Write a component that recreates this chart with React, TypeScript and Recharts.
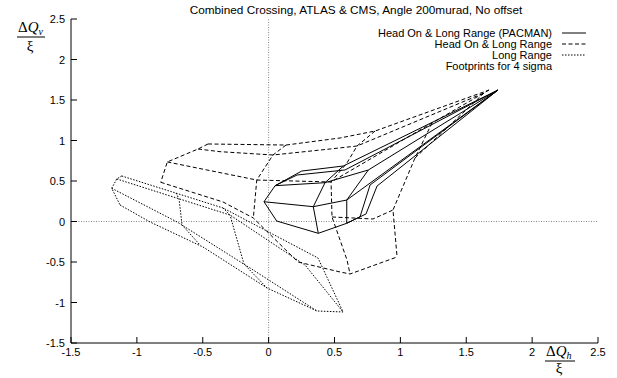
import React from 'react';
import { ComposedChart, Line, XAxis, YAxis, ReferenceLine } from 'recharts';

type Pt = [number, number];

const xTicks = [-1.5, -1, -0.5, 0, 0.5, 1, 1.5, 2, 2.5];
const yTicks = [-1.5, -1, -0.5, 0, 0.5, 1, 1.5, 2, 2.5];

const titleText = 'Combined Crossing, ATLAS & CMS, Angle 200murad, No offset';
const legendLabels = [
  'Head On & Long Range (PACMAN)',
  'Head On & Long Range',
  'Long Range',
  'Footprints for 4 sigma',
];

// Head On & Long Range (PACMAN) footprint, polylines in tune-shift units
const pacmanLines: Pt[][] = [
  [[1.741, 1.623], [0.567, 0.685], [0.251, 0.623], [0.049, 0.442], [-0.035, 0.244], [0.061, 0.006], [0.377, -0.146], [0.593, -0.022], [0.694, 0.059], [0.77, 0.451], [1.741, 1.623]],
  [[1.741, 1.623], [0.757, 0.636], [0.428, 0.479], [0.049, 0.442]],
  [[1.741, 1.623], [0.593, 0.265], [0.339, 0.183], [-0.035, 0.244]],
  [[0.567, 0.685], [0.428, 0.479], [0.339, 0.183], [0.377, -0.146]],
  [[0.757, 0.636], [0.593, 0.265], [0.593, -0.022]],
  [[0.049, 0.442], [0.216, 0.574], [0.58, 0.636], [1.741, 1.623]],
  [[0.593, -0.022], [0.739, 0.093], [0.823, 0.438], [1.741, 1.623]],
];

// Head On & Long Range footprint
const headOnLines: Pt[][] = [
  [[-0.46, 0.957], [0.132, 0.944], [0.542, 1.031], [0.808, 1.117], [1.673, 1.623]],
  [[-0.536, 0.895], [-0.369, 0.862], [0.033, 0.821], [0.466, 0.895], [0.671, 0.932], [1.635, 1.586]],
  [[-0.769, 0.735], [-0.09, 0.512], [0.474, 0.488], [1.24, 1.216], [1.673, 1.623]],
  [[-0.819, 0.484], [-0.346, 0.241], [-0.116, 0.043], [0.223, -0.5], [0.542, -0.623], [0.618, -0.648], [0.975, -0.438]],
  [[-0.46, 0.957], [-0.536, 0.895], [-0.769, 0.735], [-0.819, 0.484]],
  [[0.132, 0.944], [0.033, 0.821], [-0.09, 0.512], [-0.116, 0.043]],
  [[0.808, 1.117], [0.671, 0.932], [0.593, 0.719], [0.474, 0.488], [0.481, 0.056], [0.595, -0.475], [0.618, -0.648]],
  [[1.24, 1.216], [1.111, 0.784], [0.944, 0.142], [0.975, -0.438]],
  [[0.481, 0.056], [0.792, 0.031], [0.944, 0.142]],
  [[1.111, 0.784], [1.635, 1.586]],
];

// Long Range footprint
const longRangeLines: Pt[][] = [
  [[-1.115, 0.562], [-0.346, 0.167], [0.375, -0.451], [0.565, -1.117]],
  [[-1.153, 0.525], [-0.293, 0.08], [0.276, -0.537], [0.565, -1.117]],
  [[-1.191, 0.41], [-0.695, -0.006], [-0.141, -0.574], [0.367, -1.105]],
  [[-1.128, 0.204], [-0.9, -0.006], [-0.498, -0.315], [-0.012, -0.821], [0.367, -1.105], [0.565, -1.117]],
  [[-1.115, 0.562], [-1.153, 0.525], [-1.191, 0.41], [-1.128, 0.204]],
  [[-0.703, 0.352], [-0.68, 0.278], [-0.657, -0.043], [-0.521, -0.29]],
  [[-0.346, 0.167], [-0.293, 0.08], [-0.187, -0.525], [-0.012, -0.821]],
];

const FONT = '"Liberation Sans", Arial, Helvetica, sans-serif';
const SERIF = '"Liberation Serif", "Times New Roman", serif';
const DASH = '4 2.5';
const DOT = '1.5 1.5';

const toObjs = (line: Pt[]) => line.map(([x, y]) => ({ x, y }));

const series = [
  { name: 'pacman', lines: pacmanLines, dash: undefined as string | undefined },
  { name: 'headon', lines: headOnLines, dash: DASH },
  { name: 'longrange', lines: longRangeLines, dash: DOT },
];

const BottomTick = (p: any) => (
  <g>
    <line x1={p.x} x2={p.x} y1={p.y} y2={p.y - 6} stroke="#000" strokeWidth={1} />
    <text x={p.x} y={p.y + 13} textAnchor="middle" fontSize={11} fontFamily={FONT} fill="#000">
      {p.payload.value}
    </text>
  </g>
);
const LeftTick = (p: any) => (
  <g>
    <line x1={p.x} x2={p.x + 6} y1={p.y} y2={p.y} stroke="#000" strokeWidth={1} />
    <text x={p.x - 6} y={p.y + 4} textAnchor="end" fontSize={11} fontFamily={FONT} fill="#000">
      {p.payload.value}
    </text>
  </g>
);
const TopTick = (p: any) => (
  <line x1={p.x} x2={p.x} y1={p.y} y2={p.y + 6} stroke="#000" strokeWidth={1} />
);
const RightTick = (p: any) => (
  <line x1={p.x} x2={p.x - 6} y1={p.y} y2={p.y} stroke="#000" strokeWidth={1} />
);

const legendRows = [33, 44, 55, 66];
const legendDash = [undefined, DASH, DOT, null];

export default function App() {
  return (
    <div style={{ position: 'absolute', left: 0, top: 0, width: 617, height: 378, background: '#fff' }}>
      <ComposedChart width={617} height={378} margin={{ top: 19, right: 19, bottom: 0, left: 0 }}>
        <XAxis
          xAxisId="b"
          dataKey="x"
          type="number"
          domain={[-1.5, 2.5]}
          allowDataOverflow
          ticks={xTicks}
          interval={0}
          height={35}
          tickSize={0}
          tickMargin={0}
          tickLine={false}
          axisLine={{ stroke: '#000' }}
          tick={BottomTick}
        />
        <XAxis
          xAxisId="t"
          orientation="top"
          dataKey="x"
          type="number"
          domain={[-1.5, 2.5]}
          allowDataOverflow
          ticks={xTicks}
          interval={0}
          height={0}
          tickSize={0}
          tickMargin={0}
          tickLine={false}
          axisLine={{ stroke: '#000' }}
          tick={TopTick}
        />
        <YAxis
          yAxisId="l"
          type="number"
          domain={[-1.5, 2.5]}
          allowDataOverflow
          ticks={yTicks}
          interval={0}
          width={71}
          tickSize={0}
          tickMargin={0}
          tickLine={false}
          axisLine={{ stroke: '#000' }}
          tick={LeftTick}
        />
        <YAxis
          yAxisId="r"
          orientation="right"
          type="number"
          domain={[-1.5, 2.5]}
          allowDataOverflow
          ticks={yTicks}
          interval={0}
          width={0}
          tickSize={0}
          tickMargin={0}
          tickLine={false}
          axisLine={{ stroke: '#000' }}
          tick={RightTick}
        />
        <ReferenceLine xAxisId="b" yAxisId="l" x={0} stroke="#888" strokeDasharray="1 1.5" />
        <ReferenceLine xAxisId="b" yAxisId="l" y={0} stroke="#888" strokeDasharray="1 1.5" />
        {series.map((s) =>
          s.lines.map((line, i) => (
            <Line
              key={`${s.name}-${i}`}
              xAxisId="b"
              yAxisId="l"
              data={toObjs(line)}
              dataKey="y"
              type="linear"
              dot={false}
              activeDot={false}
              stroke="#000"
              strokeWidth={1}
              strokeDasharray={s.dash}
              isAnimationActive={false}
              legendType="none"
            />
          ))
        )}
      </ComposedChart>
      <svg
        width={617}
        height={378}
        style={{ position: 'absolute', left: 0, top: 0, pointerEvents: 'none' }}
      >
        <text x={356} y={14} textAnchor="middle" fontSize={11.8} fontFamily={FONT} fill="#000">
          {titleText}
        </text>
        {legendLabels.map((label, i) => (
          <g key={label}>
            <text x={552} y={legendRows[i] + 4} textAnchor="end" fontSize={11} fontFamily={FONT} fill="#000">
              {label}
            </text>
            {legendDash[i] !== null && (
              <line
                x1={562}
                x2={586}
                y1={legendRows[i]}
                y2={legendRows[i]}
                stroke="#000"
                strokeWidth={1}
                strokeDasharray={legendDash[i] as string | undefined}
              />
            )}
          </g>
        ))}
        <text x={18} y={32} fontSize={15} fontFamily={SERIF} fill="#000">
          Δ<tspan fontStyle="italic">Q</tspan>
          <tspan fontSize={10} fontStyle="italic" dy={3}>v</tspan>
        </text>
        <line x1={17} x2={45} y1={37} y2={37} stroke="#000" strokeWidth={1} />
        <text x={30} y={51} textAnchor="middle" fontSize={15} fontFamily={SERIF} fill="#000">ξ</text>
        <text x={546} y={356} fontSize={15} fontFamily={SERIF} fill="#000">
          Δ<tspan fontStyle="italic">Q</tspan>
          <tspan fontSize={10} fontStyle="italic" dy={3}>h</tspan>
        </text>
        <line x1={545} x2={575} y1={361} y2={361} stroke="#000" strokeWidth={1} />
        <text x={559} y={373} textAnchor="middle" fontSize={15} fontFamily={SERIF} fill="#000">ξ</text>
      </svg>
    </div>
  );
}
